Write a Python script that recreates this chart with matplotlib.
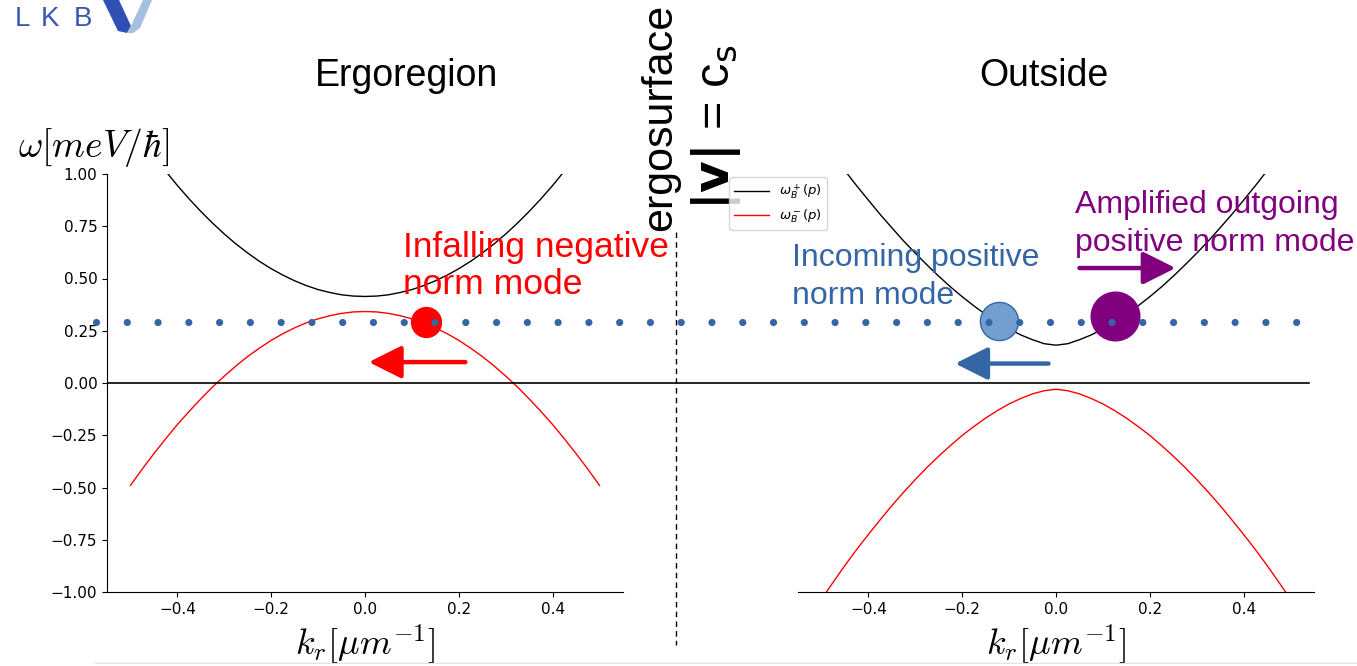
import matplotlib.pyplot as plt
import matplotlib.transforms as mtransforms
from matplotlib.lines import Line2D
from matplotlib.patches import Polygon

plt.rcParams['font.family'] = ['Liberation Sans', 'DejaVu Sans']
plt.rcParams['mathtext.fontset'] = 'cm'

W, H = 1357, 666


def fx(px):
    return px / W


def fy(py):
    return 1 - py / H


# wavevector samples (um^-1)
k = [-0.500, -0.475, -0.450, -0.425, -0.400, -0.375, -0.350, -0.325, -0.300, -0.275,
     -0.250, -0.225, -0.200, -0.175, -0.150, -0.125, -0.100, -0.075, -0.050, -0.025,
     0.000,
     0.025, 0.050, 0.075, 0.100, 0.125, 0.150, 0.175, 0.200, 0.225, 0.250,
     0.275, 0.300, 0.325, 0.350, 0.375, 0.400, 0.425, 0.450, 0.475, 0.500]

# ergoregion branches
erg_plus = [1.244, 1.163, 1.086, 1.014, 0.945, 0.881, 0.821, 0.765, 0.713, 0.665,
            0.622, 0.582, 0.547, 0.516, 0.489, 0.466, 0.447, 0.433, 0.422, 0.416,
            0.414,
            0.416, 0.422, 0.433, 0.447, 0.466, 0.489, 0.516, 0.547, 0.582, 0.622,
            0.665, 0.713, 0.765, 0.821, 0.881, 0.945, 1.014, 1.086, 1.163, 1.244]
erg_minus = [-0.490, -0.412, -0.338, -0.267, -0.199, -0.136, -0.076, -0.019, 0.033, 0.082,
             0.127, 0.167, 0.204, 0.236, 0.264, 0.288, 0.307, 0.322, 0.333, 0.340,
             0.342,
             0.340, 0.333, 0.322, 0.307, 0.288, 0.264, 0.236, 0.204, 0.167, 0.127,
             0.082, 0.033, -0.019, -0.076, -0.136, -0.199, -0.267, -0.338, -0.412, -0.490]

# outside branches
out_plus = [1.168, 1.091, 1.016, 0.944, 0.875, 0.807, 0.743, 0.680, 0.621, 0.565,
            0.511, 0.460, 0.413, 0.369, 0.328, 0.291, 0.259, 0.230, 0.207, 0.188,
            0.181,
            0.188, 0.207, 0.230, 0.259, 0.291, 0.328, 0.369, 0.413, 0.460, 0.511,
            0.565, 0.621, 0.680, 0.743, 0.807, 0.875, 0.944, 1.016, 1.091, 1.168]
out_minus = [-1.034, -0.953, -0.873, -0.797, -0.725, -0.655, -0.587, -0.523, -0.462, -0.404,
             -0.350, -0.299, -0.251, -0.208, -0.168, -0.132, -0.100, -0.074, -0.052, -0.037,
             -0.030,
             -0.037, -0.052, -0.074, -0.100, -0.132, -0.168, -0.208, -0.251, -0.299, -0.350,
             -0.404, -0.462, -0.523, -0.587, -0.655, -0.725, -0.797, -0.873, -0.953, -1.034]

mode_freq = 0.29

# modes (k, omega)
infalling = (0.131, 0.293)
incoming = (-0.121, 0.299)
outgoing = (0.125, 0.321)

# arrows (tail k, head k, omega)
arrow_infall = (0.214, 0.008, 0.10)
arrow_incoming = (-0.016, -0.215, 0.093)
arrow_outgoing = (0.050, 0.255, 0.55)

RED = '#ff0000'
BLUE = '#3465a4'
LIGHTBLUE = '#729fcf'
PURPLE = '#800080'

fig = plt.figure(figsize=(W / 100, H / 100), dpi=100)
ax1 = fig.add_axes([fx(107), fy(592), 516 / W, 418 / H])
ax2 = fig.add_axes([fx(798), fy(592), 516 / W, 418 / H])

l1, = ax1.plot(k, erg_plus, color='black', lw=1)
l2, = ax1.plot(k, erg_minus, color='red', lw=1)
ax2.plot(k, out_plus, color='black', lw=1)
ax2.plot(k, out_minus, color='red', lw=1)

for ax in (ax1, ax2):
    ax.set_xlim(-0.55, 0.55)
    ax.set_ylim(-1, 1)
    ax.set_xticks([-0.4, -0.2, 0.0, 0.2, 0.4])
    ax.tick_params(labelsize=11, labelfontfamily='DejaVu Sans')
    ax.spines['top'].set_visible(False)
    ax.spines['right'].set_visible(False)
    ax.set_xlabel(r'$k_r[\mu m^{-1}]$', fontsize=26)
    ax.xaxis.set_label_coords(0.5, -0.075)

ax1.set_yticks([-1, -0.75, -0.5, -0.25, 0, 0.25, 0.5, 0.75, 1.0])
ax1.set_ylabel(r'$\omega[meV/\hbar]$', fontsize=27, rotation=0, va='center', ha='center')
ax1.yaxis.set_label_coords(-0.025, 1.063)
ax2.spines['left'].set_visible(False)
ax2.set_yticks([])

# slide overlays spanning both panels
blend = mtransforms.blended_transform_factory(fig.transFigure, ax1.transData)
fig.add_artist(Line2D([fx(108), fx(1309)], [0, 0], transform=blend, color='black', lw=1.2, zorder=3))
fig.add_artist(Line2D([fx(96), fx(1299)], [mode_freq, mode_freq], transform=blend, color=BLUE,
                      lw=5.2, ls=(0, (0.001, 4.26)), dash_capstyle='round', zorder=4))
fig.add_artist(Line2D([fx(676), fx(676)], [fy(232), fy(645)], transform=fig.transFigure,
                      color='black', lw=1, ls=(0, (4, 3))))

# modes
ax1.plot(*infalling, 'o', ms=21.5, color=RED, zorder=6, clip_on=False)
ax2.plot(*incoming, 'o', ms=27.5, color=LIGHTBLUE, mec=BLUE, mew=1, zorder=6, clip_on=False)
ax2.plot(*outgoing, 'o', ms=35, color=PURPLE, zorder=6, clip_on=False)


def arrow(ax, spec, color):
    x0, x1, y = spec
    ax.annotate('', xy=(x1, y), xytext=(x0, y),
                arrowprops=dict(arrowstyle='-|>,head_length=0.4,head_width=0.2', color=color,
                                lw=3.2, mutation_scale=50, shrinkA=0, shrinkB=0), zorder=6)


arrow(ax1, arrow_infall, RED)
arrow(ax2, arrow_incoming, BLUE)
arrow(ax2, arrow_outgoing, PURPLE)

# annotations
fig.text(fx(403), fy(231), 'Infalling negative\nnorm mode', color=RED, fontsize=25.5,
         va='top', ha='left', linespacing=1.15)
fig.text(fx(792), fy(243), 'Incoming positive\nnorm mode', color=BLUE, fontsize=23,
         va='top', ha='left', linespacing=1.35)
fig.text(fx(1075), fy(190), 'Amplified outgoing\npositive norm mode', color=PURPLE, fontsize=23,
         va='top', ha='left', linespacing=1.35)

fig.text(fx(406), fy(76), 'Ergoregion', fontsize=27, ha='center', va='center')
fig.text(fx(1044), fy(76), 'Outside', fontsize=27, ha='center', va='center')
fig.text(fx(660), fy(117), 'ergosurface', fontsize=31, rotation=90, ha='center', va='center')
fig.text(fx(716), fy(127), r'$\mathbf{|v|}$ = c$_\mathrm{s}$', fontsize=35, rotation=90,
         ha='center', va='center', math_fontfamily='dejavusans')

leg = fig.legend(handles=[l1, l2], labels=[r'$\omega_B^+(p)$', r'$\omega_B^-(p)$'],
                 loc='upper left', bbox_to_anchor=(fx(729), fy(177)), fontsize=9.5,
                 handlelength=2.6, borderaxespad=0)
for t in leg.get_texts():
    t.set_math_fontfamily('dejavusans')

# LKB logo
for letter, px in (('L', 15), ('K', 41), ('B', 74)):
    fig.text(fx(px), fy(19), letter, fontsize=20, color='#3a56b0', ha='left', va='center')
fig.add_artist(Polygon([(fx(103), fy(0)), (fx(119), fy(0)), (fx(131), fy(26)), (fx(127), fy(33)),
                        (fx(118), fy(31))], closed=True, transform=fig.transFigure,
                       facecolor='#2f4fb5', edgecolor='none'))
fig.add_artist(Polygon([(fx(127), fy(33)), (fx(131), fy(26)), (fx(143), fy(0)), (fx(152), fy(0)),
                        (fx(140), fy(28)), (fx(133), fy(33))], closed=True, transform=fig.transFigure,
                       facecolor='#a5bee3', edgecolor='none'))
fig.add_artist(Line2D([fx(95), fx(1357)], [fy(663), fy(663)], transform=fig.transFigure,
                      color='#e2e2e2', lw=1))

fig.savefig('out.png', dpi=100)
